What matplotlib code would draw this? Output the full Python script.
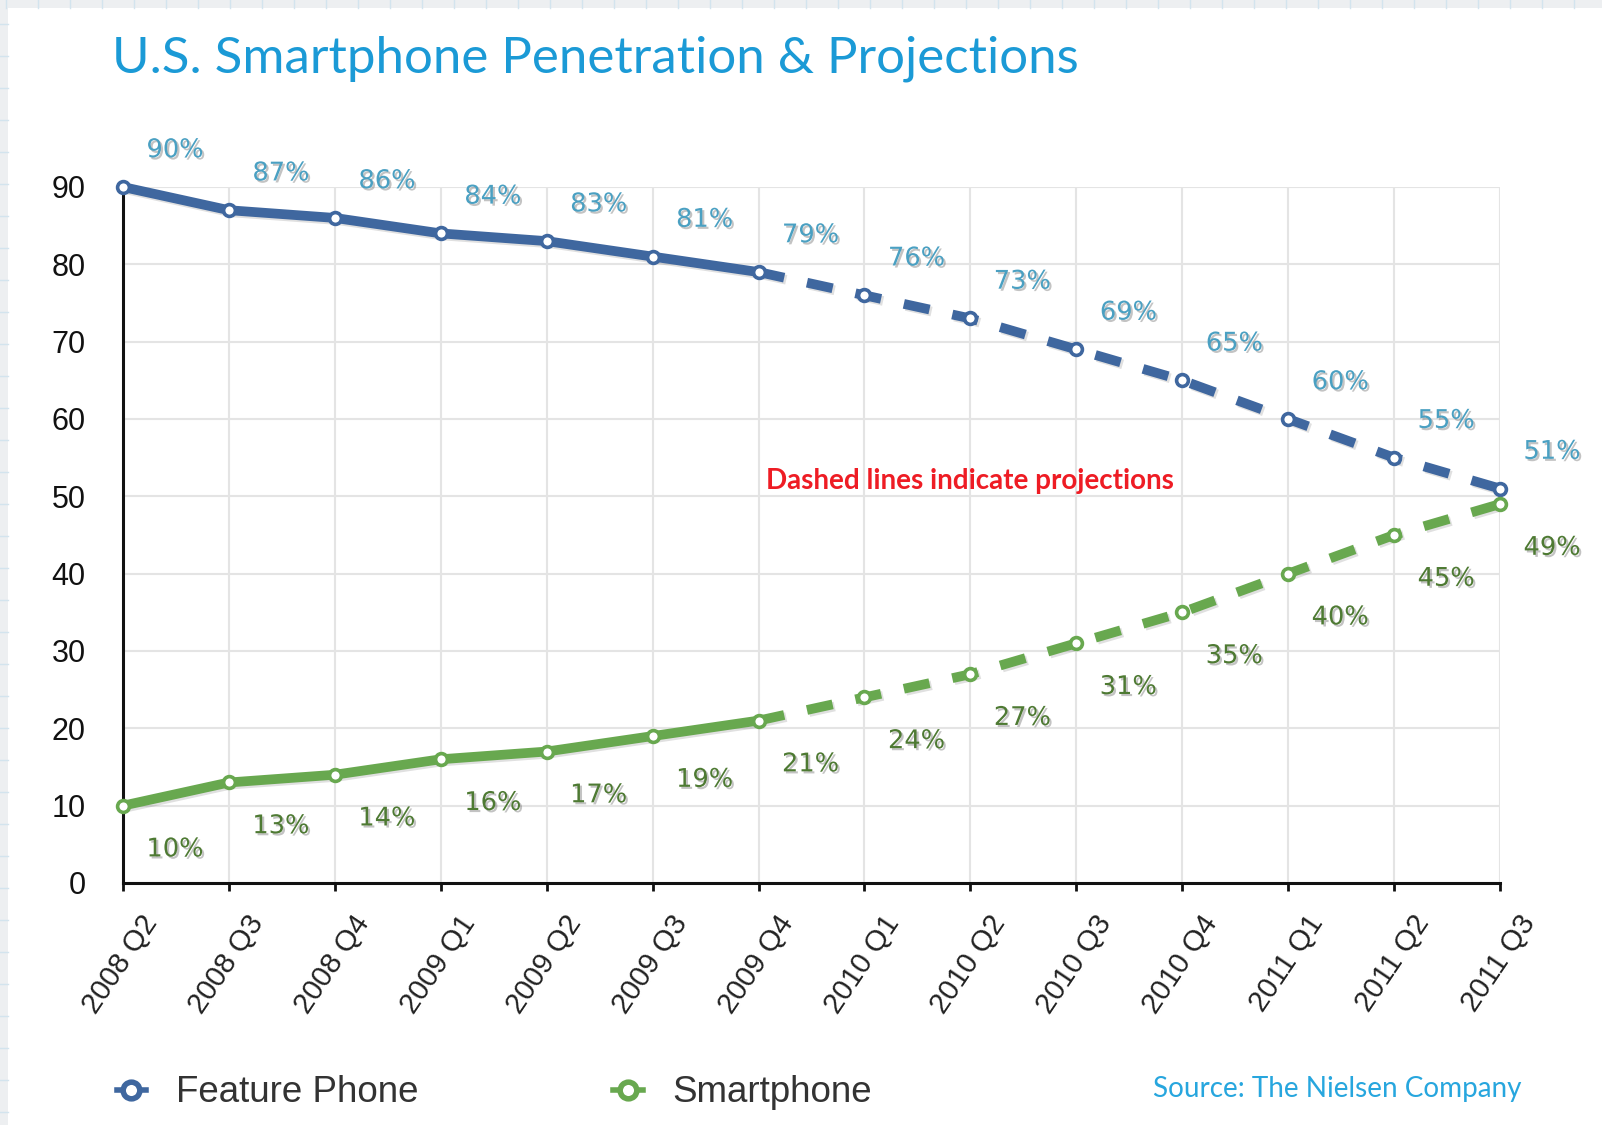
import matplotlib
matplotlib.use("Agg")
import matplotlib.pyplot as plt
import matplotlib.patheffects as pe
from matplotlib.lines import Line2D
from matplotlib.patches import Rectangle
import matplotlib.transforms as mtransforms

# ---------------- data ----------------
quarters = ["2008 Q2", "2008 Q3", "2008 Q4", "2009 Q1", "2009 Q2", "2009 Q3", "2009 Q4",
            "2010 Q1", "2010 Q2", "2010 Q3", "2010 Q4", "2011 Q1", "2011 Q2", "2011 Q3"]
feature_phone = [90, 87, 86, 84, 83, 81, 79, 76, 73, 69, 65, 60, 55, 51]
smartphone = [10, 13, 14, 16, 17, 19, 21, 24, 27, 31, 35, 40, 45, 49]
last_actual = 6  # index of 2009 Q4: after this values are projections
y_ticks = [0, 10, 20, 30, 40, 50, 60, 70, 80, 90]

title = "U.S. Smartphone Penetration & Projections"
note = "Dashed lines indicate projections"
source = "Source: The Nielsen Company"

# ---------------- style ----------------
W, H = 1602, 1125
BLUE = "#3F679F"
GREEN = "#68A84F"
BLUE_LBL = "#4AA0C2"
GREEN_LBL = "#4E7A33"
TITLE_C = "#1B9AD6"

def fx(x):
    return x / W

def fy(y):
    return 1 - y / H

fig = plt.figure(figsize=(W / 100, H / 100), dpi=100, facecolor="white")

# background paper strips (top and left)
fig.add_artist(Rectangle((0, fy(8)), 1, 8 / H, transform=fig.transFigure,
                         facecolor="#EDEFF1", edgecolor="none", zorder=-5))
fig.add_artist(Rectangle((0, 0), 8 / W, 1, transform=fig.transFigure,
                         facecolor="#EDEFF1", edgecolor="none", zorder=-5))
for gx in range(6, W, 32):
    fig.add_artist(Line2D([fx(gx), fx(gx)], [fy(8), 1], transform=fig.transFigure,
                          color="#D3E4EE", lw=1, zorder=-4))
for gy in range(24, H, 32):
    fig.add_artist(Line2D([0, fx(8)], [fy(gy), fy(gy)], transform=fig.transFigure,
                          color="#D3E4EE", lw=1, zorder=-4))

ax = fig.add_axes([fx(123), fy(883), fx(1500) - fx(123), fy(187) - fy(883)])
ax.set_facecolor("white")

x = list(range(len(quarters)))
ax.set_xlim(0, len(quarters) - 1)
ax.set_ylim(0, 90)

# grid
ax.set_yticks(y_ticks)
ax.set_xticks(x)
ax.grid(True, color="#E4E4E4", lw=1.5, zorder=0)
ax.set_axisbelow(True)

for s in ["top", "right"]:
    ax.spines[s].set_visible(False)
for s in ["left", "bottom"]:
    ax.spines[s].set_linewidth(2.2)
    ax.spines[s].set_color("#111111")
    ax.spines[s].set_zorder(2)

ax.tick_params(axis="y", length=0, pad=27, labelsize=22, labelcolor="#111111")
ax.tick_params(axis="x", length=6, width=2, direction="out", color="#111111", labelbottom=False)
for lbl in ax.get_yticklabels():
    lbl.set_fontfamily("Liberation Sans")

# x tick labels as rotated text
off = mtransforms.ScaledTranslation(0.29, -0.35, fig.dpi_scale_trans)
for i, q in enumerate(quarters):
    ax.text(i, 0, q, transform=ax.get_xaxis_transform() + off,
            rotation=56, rotation_mode="anchor", ha="right", va="center",
            fontsize=21, family="Liberation Sans", color="#222222")

lw = 7
shadow_line = [pe.SimpleLineShadow(offset=(1.5, -1.5), shadow_color="k", alpha=0.12), pe.Normal()]
for vals, col in [(feature_phone, BLUE), (smartphone, GREEN)]:
    xs_a = x[:last_actual + 1]
    ax.plot(xs_a, vals[:last_actual + 1], color=col, lw=lw, solid_joinstyle="round",
            solid_capstyle="round", zorder=3, clip_on=False, path_effects=shadow_line)
    xs_p = x[last_actual:]
    ax.plot(xs_p, vals[last_actual:], color=col, lw=lw, linestyle=(0, (2.7, 2.4)),
            dash_capstyle="butt", zorder=3, clip_on=False, path_effects=shadow_line)
    ax.plot(x, vals, linestyle="none", marker="o", ms=8.5, mfc="white", mec=col, mew=2.6,
            zorder=4, clip_on=False)

shadow_txt = [pe.SimplePatchShadow(offset=(1.5, -1.5), shadow_rgbFace="#555555", alpha=0.35), pe.Normal()]
for i, v in enumerate(feature_phone):
    ax.annotate(f"{v}%", (i, v), xytext=(37.5, 26.5), textcoords="offset points",
                ha="center", va="center", fontsize=18.5, family="DejaVu Sans",
                color=BLUE_LBL, path_effects=shadow_txt, annotation_clip=False)
for i, v in enumerate(smartphone):
    ax.annotate(f"{v}%", (i, v), xytext=(37.5, -31.5), textcoords="offset points",
                ha="center", va="center", fontsize=18.5, family="DejaVu Sans",
                color=GREEN_LBL, path_effects=shadow_txt, annotation_clip=False)

renderer = fig.canvas.get_renderer()

def fit_width(t, target_px):
    w = t.get_window_extent(renderer).width
    t.set_fontsize(t.get_fontsize() * target_px / w)

t_title = fig.text(fx(112), fy(72), title, ha="left", va="baseline",
                   fontsize=36, family="Lato", color=TITLE_C)
fit_width(t_title, 966)

t_note = fig.text(fx(766), fy(481), note, ha="left", va="center",
                  fontsize=18, family="Lato", weight="bold", color="#EE1C24")
fit_width(t_note, 409)

t_src = fig.text(fx(1153), fy(1089), source, ha="left", va="center",
                 fontsize=18, family="Lato", color="#27A6DE")
fit_width(t_src, 367)

handles = [
    Line2D([], [], color=BLUE, lw=4, marker="o", ms=12, mfc="white", mec=BLUE, mew=4),
    Line2D([], [], color=GREEN, lw=4, marker="o", ms=12, mfc="white", mec=GREEN, mew=4),
]
leg = fig.legend(handles, ["Feature Phone", "Smartphone"], ncol=2, frameon=False,
                 loc="center left", bbox_to_anchor=(fx(102), fy(1093)), borderaxespad=0,
                 prop={"family": "Liberation Sans", "size": 26.5},
                 handlelength=0.8, handletextpad=0.8, columnspacing=5.3)
for t in leg.get_texts():
    t.set_color("#333333")

fig.savefig("out.png", dpi=100, facecolor="white")
